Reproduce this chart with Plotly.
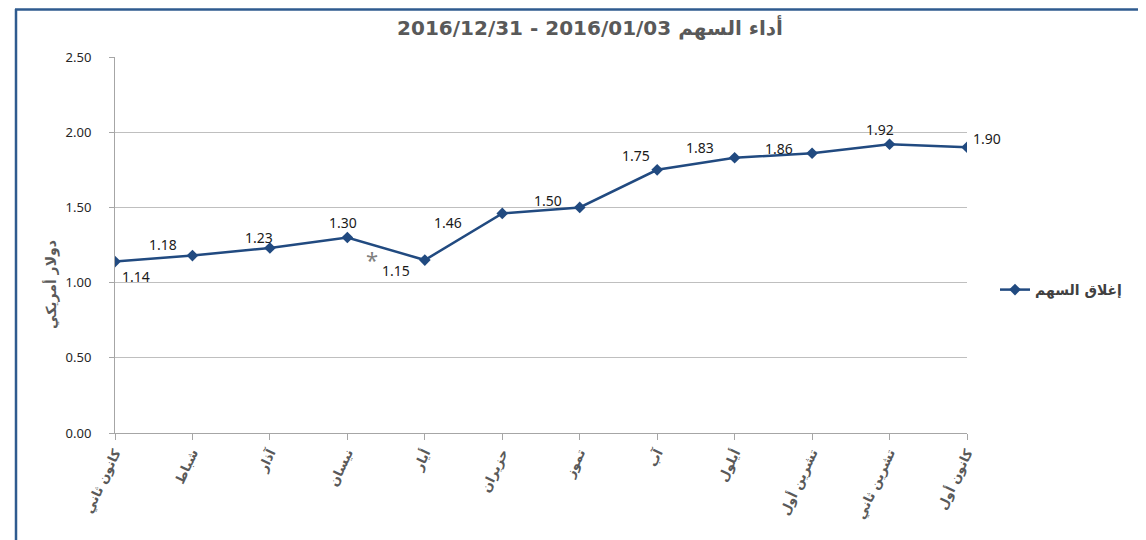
import plotly.graph_objects as go

months = ["كانون ثاني", "شباط", "آذار", "نيسان", "أيار", "حزيران",
          "تموز", "آب", "أيلول", "تشرين أول", "تشرين ثاني", "كانون أول"]
close_price = [1.14, 1.18, 1.23, 1.30, 1.15, 1.46, 1.50, 1.75, 1.83, 1.86, 1.92, 1.90]
y_ticks = [0.0, 0.5, 1.0, 1.5, 2.0, 2.5]
series_name = "إغلاق السهم"
title_text = "\u202Bأداء السهم 2016/01/03 - 2016/12/31\u202C"
y_title = "دولار أمريكي"

# label offsets (pixels) relative to each point
label_dx = [21, -29, -11, -4, -29, -54, -32, -21, -35, -33, -10, 20]
label_dy = [-15, 11, 11, 15, -10, -9, 7, 14, 10, 5, 15, 9]

LINE = "#214A80"
FONT = "Noto Sans, DejaVu Sans, sans-serif"
AR_FONT = "DejaVu Sans, Noto Sans, sans-serif"

fig = go.Figure()
fig.add_trace(go.Scatter(
    x=months, y=close_price, mode="lines+markers", name=series_name,
    line=dict(color=LINE, width=2.5),
    marker=dict(symbol="diamond", size=9, color=LINE),
))

annotations = []
for m, v, dx, dy in zip(months, close_price, label_dx, label_dy):
    annotations.append(dict(
        x=m, y=v, xref="x", yref="y", text=f"{v:.2f}", showarrow=False,
        xshift=dx, yshift=dy, font=dict(family=FONT, size=14, color="#1a1a1a"),
    ))
# asterisk note near the May dip
annotations.append(dict(
    x=months[3], y=close_price[3], xref="x", yref="y", text="*", showarrow=False,
    xshift=25, yshift=-22, font=dict(family=FONT, size=22, color="#808080"),
))

# page offset: the page body adds 8px, so figure coords = screenshot - 8
OFF = 8
PL, PR, PT, PB = 115, 967, 57, 433   # plot area in screenshot coords
plot_w = PR - PL
plot_h = PB - PT
def px_x(p):
    return (p - PL) / plot_w
def px_y(p):
    return (PB - p) / plot_h

# y axis title
annotations.append(dict(
    x=px_x(40), y=px_y(285), xref="paper", yref="paper", text=y_title, showarrow=False,
    textangle=-90, font=dict(family=AR_FONT, size=14, color="#595959", weight="bold"),
))

shapes = [
    dict(type="line", xref="paper", yref="paper", x0=px_x(16), x1=px_x(16),
         y0=px_y(9), y1=px_y(560), line=dict(color="#2F5B8F", width=2.5)),
    dict(type="line", xref="paper", yref="paper", x0=px_x(15), x1=px_x(1160),
         y0=px_y(9.5), y1=px_y(9.5), line=dict(color="#2F5B8F", width=2.5)),
]

fig.update_layout(
    width=1146, height=540,
    margin=dict(l=PL - OFF, r=1146 - (PR - OFF), t=PT - OFF, b=540 - (PB - OFF)),
    paper_bgcolor="white", plot_bgcolor="white",
    title=dict(text=title_text, x=(590 - OFF) / 1146, xref="container", xanchor="center",
               y=1 - (28 - OFF) / 540, yanchor="middle",
               font=dict(family=AR_FONT, size=20, color="#595959", weight="bold")),
    showlegend=True,
    legend=dict(x=px_x(995), y=px_y(290), xanchor="left", yanchor="middle",
                font=dict(family=AR_FONT, size=14, color="#404040", weight="bold"),
                bgcolor="rgba(0,0,0,0)"),
    annotations=annotations,
    shapes=shapes,
    xaxis=dict(
        type="category", range=[0, len(months) - 1],
        showgrid=False,
        showline=True, linecolor="#A6A6A6", linewidth=1,
        ticks="outside", ticklen=6, tickcolor="#A6A6A6",
        tickangle=-65,
        tickfont=dict(family=AR_FONT, size=13, color="#595959", weight="bold"),
        zeroline=False,
    ),
    yaxis=dict(
        range=[0, 2.5], tickvals=y_ticks, tickformat=".2f",
        showgrid=True, gridcolor="#BFBFBF", gridwidth=1,
        showline=True, linecolor="#A6A6A6", linewidth=1,
        ticks="outside", ticklen=5, tickcolor="#A6A6A6",
        ticklabelstandoff=15,
        tickfont=dict(family=FONT, size=13, color="#262626"),
        zeroline=False,
    ),
)

fig.write_html("out.html")
